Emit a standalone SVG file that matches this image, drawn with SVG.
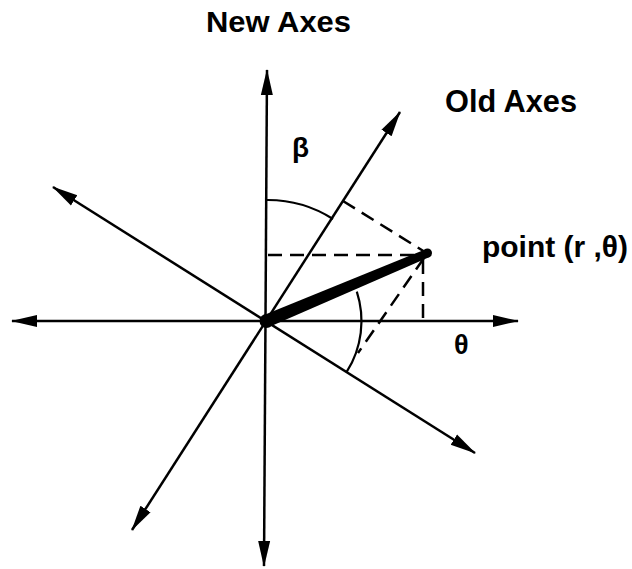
<svg xmlns="http://www.w3.org/2000/svg" width="632" height="569" viewBox="0 0 632 569">
<style>
.ax{stroke:#000;stroke-width:2.5;fill:none;marker-start:url(#ah);marker-end:url(#ah)}
.dash{stroke:#000;stroke-width:2.5;fill:none;stroke-dasharray:14 8}
.arc{stroke:#000;stroke-width:2.2;fill:none}
.lbl{font-family:"Liberation Sans",Arial,sans-serif;font-weight:bold;fill:#000}
</style>
<defs>
<marker id="ah" viewBox="0 0 26 14" refX="25" refY="7" markerWidth="26" markerHeight="14" markerUnits="userSpaceOnUse" orient="auto-start-reverse">
<path d="M0,1 L26,7 L0,13 Z" fill="#000"/>
</marker>
</defs>
<rect width="632" height="569" fill="#fff"/>
<g id="connectors">
<line id="new-x-axis" class="ax" x1="12" y1="321" x2="518" y2="321"/>
<line id="new-y-axis" class="ax" x1="264" y1="566" x2="267" y2="70"/>
<line id="old-y-axis" class="ax" x1="132" y1="530" x2="400" y2="112"/>
<line id="old-x-axis" class="ax" x1="53" y1="187" x2="475" y2="453"/>
<line class="dash" x1="268" y1="255" x2="420" y2="255"/>
<line class="dash" x1="423" y1="260" x2="423" y2="320"/>
<line class="dash" x1="343" y1="201" x2="425" y2="252"/>
<line class="dash" x1="424" y1="258" x2="358" y2="353"/>
<path class="arc" d="M266.5,200 A121,121 0 0 1 333,219"/>
<path class="arc" d="M356.8,291.6 A95,95 0 0 1 346.8,371.7"/>
</g>
<g id="radius-vector">
<polygon points="269.0,327.0 429.6,257.1 426.4,248.9 264.0,315.0" fill="#000"/>
<circle cx="266.5" cy="321" r="7" fill="#000"/>
<circle cx="427.5" cy="253" r="4.5" fill="#000"/>
</g>
<g id="label-new-axes"><text class="lbl" x="206" y="32" font-size="30" textLength="145" lengthAdjust="spacingAndGlyphs">New Axes</text></g>
<g id="label-old-axes"><text class="lbl" x="445" y="112" font-size="32" textLength="132" lengthAdjust="spacingAndGlyphs">Old Axes</text></g>
<g id="label-point"><text class="lbl" x="482" y="257" font-size="30" textLength="146" lengthAdjust="spacingAndGlyphs">point (r ,θ)</text></g>
<g id="label-beta"><text class="lbl" x="292" y="157" font-size="28">β</text></g>
<g id="label-theta"><text class="lbl" x="454" y="354" font-size="27">θ</text></g>
</svg>
